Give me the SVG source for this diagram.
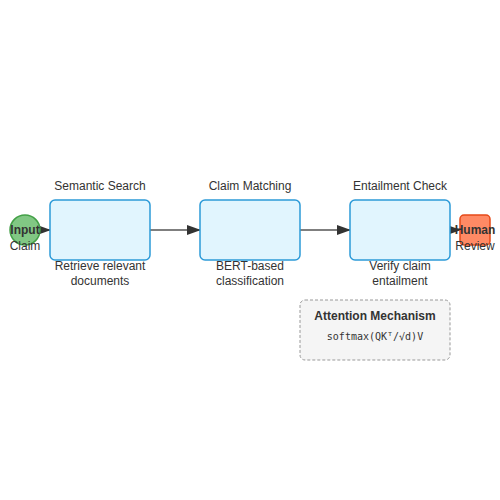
<svg xmlns="http://www.w3.org/2000/svg" width="500" height="500" viewBox="0 0 500 500">
<style>
.proc{fill:#e1f5fe;stroke:#2c9ad8;stroke-width:1.5}
.lbl{font-family:"Liberation Sans",Arial,sans-serif;font-size:12px;fill:#333;text-anchor:middle}
.b{font-weight:bold}
.edge{stroke:#555;stroke-width:1.5;fill:none}
.mono{font-family:"DejaVu Sans Mono","Liberation Mono",monospace;font-size:10px;fill:#333;text-anchor:middle}
</style>
<defs>
<marker id="ah2" markerWidth="14" markerHeight="10" refX="13" refY="5" orient="auto" markerUnits="userSpaceOnUse">
<path d="M0,0 L14,5 L0,10 Z" fill="#333"/>
</marker>
</defs>
<rect width="500" height="500" fill="#fff"/>
<g id="connectors">
<line class="edge" x1="38" y1="230" x2="50" y2="230" marker-end="url(#ah2)"/>
<line class="edge" x1="150" y1="230" x2="200" y2="230" marker-end="url(#ah2)"/>
<line class="edge" x1="300" y1="230" x2="350" y2="230" marker-end="url(#ah2)"/>
<line class="edge" x1="450" y1="230" x2="460" y2="230" marker-end="url(#ah2)"/>
</g>
<g id="input">
<circle cx="25" cy="230" r="15" fill="#81c784" stroke="#43a047" stroke-width="1.5"/>
<text class="lbl b" x="25" y="234">Input</text>
<text class="lbl" x="25" y="250">Claim</text>
</g>
<g id="semantic">
<rect class="proc" x="50" y="200" width="100" height="60" rx="5"/>
<text class="lbl" x="100" y="190">Semantic Search</text>
<text class="lbl" x="100" y="270">Retrieve relevant</text>
<text class="lbl" x="100" y="285">documents</text>
</g>
<g id="matching">
<rect class="proc" x="200" y="200" width="100" height="60" rx="5"/>
<text class="lbl" x="250" y="190">Claim Matching</text>
<text class="lbl" x="250" y="270">BERT-based</text>
<text class="lbl" x="250" y="285">classification</text>
</g>
<g id="entailment">
<rect class="proc" x="350" y="200" width="100" height="60" rx="5"/>
<text class="lbl" x="400" y="190">Entailment Check</text>
<text class="lbl" x="400" y="270">Verify claim</text>
<text class="lbl" x="400" y="285">entailment</text>
</g>
<g id="human">
<rect x="460" y="215" width="30" height="30" rx="4" fill="#ff8a65" stroke="#e64a19" stroke-width="1.5"/>
<text class="lbl b" x="475" y="234">Human</text>
<text class="lbl" x="475" y="250">Review</text>
</g>
<g id="attention">
<rect x="300" y="300" width="150" height="60" rx="5" fill="#f5f5f5" stroke="#999" stroke-width="1" stroke-dasharray="3,2"/>
<text class="lbl b" x="375" y="320">Attention Mechanism</text>
<text class="mono" x="375" y="340">softmax(QKᵀ/√d)V</text>
</g>
</svg>
